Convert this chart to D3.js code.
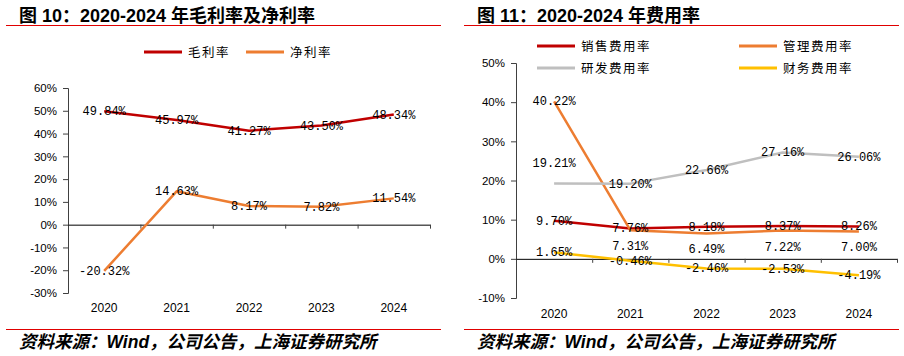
<!DOCTYPE html>
<html><head><meta charset="utf-8">
<script src="https://cdn.jsdelivr.net/npm/d3@7"></script>
<style>
body{margin:0;background:#fff;}
svg{display:block;}
</style></head>
<body><svg id="c" width="904" height="356"></svg>
<script>
const years = ["2020","2021","2022","2023","2024"];
// Chart 10
const grossMargin = [49.84, 45.97, 41.27, 43.50, 48.34];
const netMargin = [-20.32, 14.63, 8.17, 7.82, 11.54];
const leftTicks = [-30,-20,-10,0,10,20,30,40,50,60];
// Chart 11
const salesRate = [9.70, 7.76, 8.18, 8.37, 8.26];
const adminRate = [40.22, 7.31, 6.49, 7.22, 7.00];
const rdRate = [19.21, 19.20, 22.66, 27.16, 26.06];
const finRate = [1.65, -0.46, -2.46, -2.53, -4.19];
const rightTicks = [-10,0,10,20,30,40,50];

const C_RED="#C00000", C_ORANGE="#ED7D31", C_GRAY="#BFBFBF", C_YELLOW="#FFC000";
const svg = d3.select("#c");
const CJK = "'Noto Sans CJK SC', sans-serif";
const TITLE = "'Liberation Sans', 'Noto Sans CJK SC', sans-serif";
const NUM = "'Liberation Sans', Arial, sans-serif";
const MONO = "'Liberation Mono', monospace";

function header(x0, x1, tx, title){
  svg.append("text").attr("x",tx).attr("y",22).attr("font-family",TITLE).attr("font-weight","bold")
    .attr("font-size",18).attr("fill","#000").text(title);
  svg.append("line").attr("x1",x0).attr("x2",x1).attr("y1",25.5).attr("y2",25.5).attr("stroke","#E00000").attr("stroke-width",1);
  svg.append("line").attr("x1",x0).attr("x2",x1).attr("y1",329.5).attr("y2",329.5).attr("stroke","#E00000").attr("stroke-width",1);
  const t = svg.append("text").attr("x",tx).attr("y",348).attr("font-family",CJK).attr("font-weight","bold")
    .attr("font-style","italic").attr("font-size",17.5).attr("fill","#000");
  t.append("tspan").text("资料来源：");
  t.append("tspan").attr("font-family","'Liberation Sans', Arial").text("Wind");
  t.append("tspan").text("，公司公告，上海证券研究所");
}

function chart(cfg){
  const x = d3.scaleBand().domain(years).range(cfg.xr);
  const y = d3.scaleLinear().domain(cfg.yd).range(cfg.yr);
  // y axis
  const ya = svg.append("g").attr("transform",`translate(${cfg.xr[0]},0)`)
    .call(d3.axisLeft(y).tickValues(cfg.ticks).tickSize(5).tickPadding(6).tickFormat(d=>d+"%"));
  ya.select(".domain").attr("stroke","#404040");
  ya.selectAll(".tick line").attr("stroke","#404040");
  ya.selectAll("text").attr("font-family",NUM).attr("font-size",11.5).attr("fill","#000");
  // x axis at zero
  const xa = svg.append("g").attr("transform",`translate(0,${y(0)})`)
    .call(d3.axisBottom(x).tickSize(0).tickFormat(""));
  xa.select(".domain").attr("stroke","#000");
  const bounds = d3.range(years.length+1).map(i=>cfg.xr[0]+i*x.step());
  svg.append("g").selectAll("line").data(bounds.slice(1)).join("line")
    .attr("x1",d=>d+0.5).attr("x2",d=>d+0.5).attr("y1",y(0)).attr("y2",y(0)+4).attr("stroke","#404040");
  svg.append("g").selectAll("text").data(years).join("text")
    .attr("x",d=>x(d)+x.bandwidth()/2).attr("y",cfg.yearY).attr("text-anchor","middle")
    .attr("font-family",NUM).attr("font-size",12).attr("fill","#000").text(d=>d);
  // series
  const line = d3.line().x((d,i)=>x(years[i])+x.bandwidth()/2).y(d=>y(d));
  cfg.series.forEach(s=>{
    svg.append("path").datum(s.values).attr("d",line).attr("fill","none")
      .attr("stroke",s.color).attr("stroke-width",2.5).attr("stroke-linejoin","round");
  });
  cfg.series.forEach(s=>{
    svg.append("g").selectAll("text").data(s.values).join("text")
      .attr("x",(d,i)=>x(years[i])+x.bandwidth()/2)
      .attr("y",(d,i)=>y(d)+(s.dy?s.dy(i):0)+4)
      .attr("text-anchor","middle").attr("font-family",MONO).attr("font-size",12).attr("fill","#000")
      .text(d=>d.toFixed(2)+"%");
  });
  // legend
  cfg.series.forEach(s=>{
    svg.append("line").attr("x1",s.lx).attr("x2",s.lx+38).attr("y1",s.ly).attr("y2",s.ly)
      .attr("stroke",s.color).attr("stroke-width",3);
    svg.append("text").attr("x",s.lx+44).attr("y",s.ly+4.5).attr("font-family",CJK).attr("font-size",12.5)
      .attr("letter-spacing",1.5).attr("fill","#000").text(s.name);
  });
}

header(6, 441, 19, "图 10：2020-2024 年毛利率及净利率");
header(464, 899, 477, "图 11：2020-2024 年费用率");

chart({xr:[68,430], yd:[-30,60], yr:[293,88], ticks:leftTicks, yearY:312,
  series:[
    {name:"毛利率", values:grossMargin, color:C_RED, lx:144, ly:52},
    {name:"净利率", values:netMargin, color:C_ORANGE, lx:246, ly:52}
  ]});

chart({xr:[516,897], yd:[-10,50], yr:[298,63], ticks:rightTicks, yearY:318,
  series:[
    {name:"销售费用率", values:salesRate, color:C_RED, lx:537, ly:46},
    {name:"管理费用率", values:adminRate, color:C_ORANGE, lx:739, ly:46, dy:i=>i===0?0:16},
    {name:"研发费用率", values:rdRate, color:C_GRAY, lx:537, ly:68, dy:i=>i===0?-21:0},
    {name:"财务费用率", values:finRate, color:C_YELLOW, lx:739, ly:68}
  ]});
</script></body></html>
